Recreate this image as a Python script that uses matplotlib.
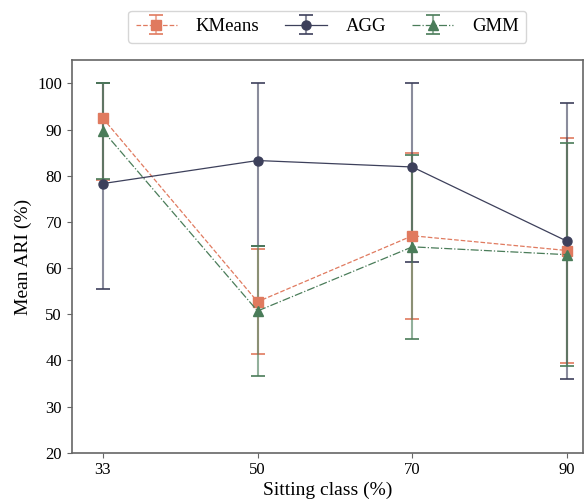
import numpy as np
import matplotlib
matplotlib.use("Agg")
import matplotlib.pyplot as plt

plt.rcParams['font.family'] = ['Liberation Serif', 'DejaVu Serif']

# sitting class (%) and mean ARI (%) with std
classes = ['33', '50', '70', '90']
kmeans_mean = [92.5, 52.7, 67.0, 63.8]
kmeans_std = [13.5, 11.4, 18.0, 24.3]
agg_mean = [78.3, 83.3, 81.9, 65.8]
agg_std = [22.9, 18.6, 20.5, 29.9]
gmm_mean = [89.8, 50.7, 64.6, 62.9]
gmm_std = [10.5, 14.1, 20.0, 24.2]

c_km = '#e07a5f'
c_agg = '#3d405b'
c_gmm = '#4a7c59'


# clip the error bars at 100 %
def clipped_err(mean, std):
    mean = np.array(mean)
    std = np.array(std)
    lo = std
    hi = np.minimum(mean + std, 100) - mean
    return [lo, hi]


x = np.arange(len(classes))

fig, ax = plt.subplots(figsize=(5.88, 5.03), dpi=100)

series = [
    ('KMeans', kmeans_mean, kmeans_std, c_km, 's', '--'),
    ('AGG', agg_mean, agg_std, c_agg, 'o', '-'),
    ('GMM', gmm_mean, gmm_std, c_gmm, '^', '-.'),
]

for name, m, s, c, mk, ls in series:
    eb = ax.errorbar(x, m, yerr=clipped_err(m, s), label=name, color=c,
                     marker=mk, markersize=6.5, linestyle=ls, linewidth=0.9,
                     capsize=5, elinewidth=1.5, capthick=1.2)
    for bar in eb[2]:
        bar.set_alpha(0.6)

ax.set_xticks(x)
ax.set_xticklabels(classes)
ax.set_xlim(-0.2, 3.1)
ax.set_ylim(20, 105)
ax.set_yticks(np.arange(20, 101, 10))
ax.set_xlabel('Sitting class (%)', fontsize=14, labelpad=2)
ax.set_ylabel('Mean ARI (%)', fontsize=14)
ax.tick_params(labelsize=12, color='#666666')
for sp in ax.spines.values():
    sp.set_color('#666666')
    sp.set_linewidth(1.2)

leg = ax.legend(loc='lower center', bbox_to_anchor=(0.5, 1.045), ncol=3,
                fontsize=13.5, frameon=True, fancybox=True, handlelength=2.2,
                handletextpad=1.0, columnspacing=1.4, borderaxespad=0)
leg.get_frame().set_edgecolor('#cccccc')

fig.subplots_adjust(left=0.122, right=0.991, bottom=0.1, top=0.88)
fig.savefig('out.png', dpi=100)
